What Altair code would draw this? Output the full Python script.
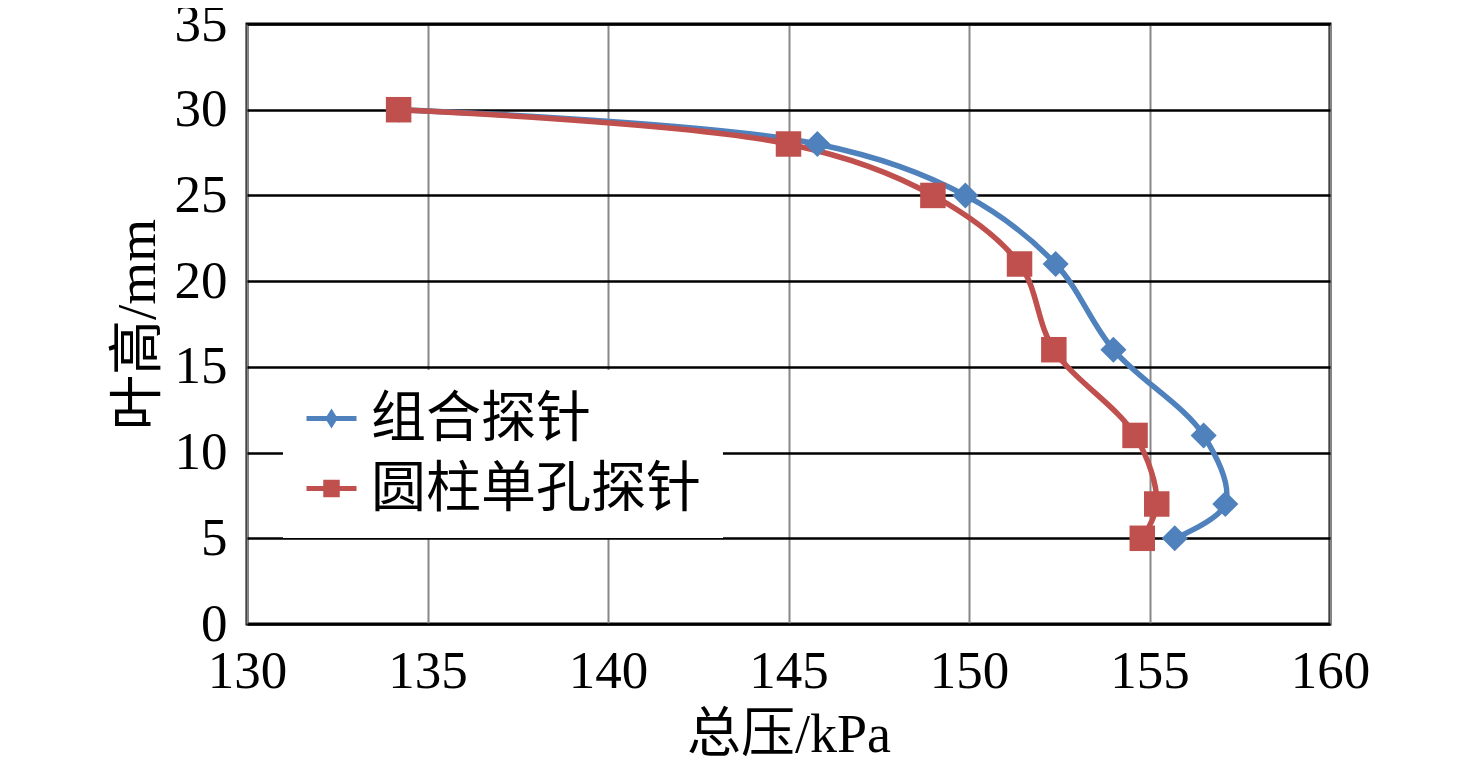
import altair as alt
import pandas as pd

series_names = ["组合探针", "圆柱单孔探针"]
heights = [30, 28, 25, 21, 16, 11, 7, 5]
blue_x = [134.2, 145.8, 149.9, 152.4, 154.0, 156.5, 157.1, 155.7]
red_x = [134.2, 145.0, 149.0, 151.4, 152.35, 154.6, 155.2, 154.8]
x_ticks = [130, 135, 140, 145, 150, 155, 160]
y_ticks = [0, 5, 10, 15, 20, 25, 30, 35]
colors = ["#4F81BD", "#C0504D"]

rows = []
for i, (h, v) in enumerate(zip(heights, blue_x)):
    rows.append({"series": series_names[0], "x": v, "y": h, "idx": i})
for i, (h, v) in enumerate(zip(heights, red_x)):
    rows.append({"series": series_names[1], "x": v, "y": h, "idx": i})
df = pd.DataFrame(rows)

FONT = "Liberation Serif, Times New Roman, Noto Sans CJK SC"

xenc = alt.X("x:Q", scale=alt.Scale(domain=[130, 160], nice=False, zero=False),
             axis=alt.Axis(values=x_ticks, title="总压/kPa", grid=True, gridColor="#888888",
                           gridWidth=2, ticks=False, domain=False, labelFont=FONT,
                           labelFontSize=53, labelColor="black", labelPadding=21,
                           titleFont=FONT, titleFontSize=54, titleFontWeight="normal",
                           titleColor="black", titlePadding=10, labelFlush=False))
yenc = alt.Y("y:Q", scale=alt.Scale(domain=[0, 35], nice=False, zero=False),
             axis=alt.Axis(values=y_ticks, title="叶高/mm", grid=True, gridColor="black",
                           gridWidth=2.5, ticks=False, domain=False, labelFont=FONT,
                           labelFontSize=53, labelColor="black", labelPadding=20,
                           titleFont=FONT, titleFontSize=55, titleFontWeight="normal",
                           titleColor="black", titlePadding=8, labelFlush=False))

diamond_path = "M-1,-0.1L1,-0.1L1,0.1L-1,0.1Z M0,-0.4L0.25,0L0,0.4L-0.25,0Z"
square_path = "M-1,-0.1L1,-0.1L1,0.1L-1,0.1Z M-0.33,-0.35L0.33,-0.35L0.33,0.35L-0.33,0.35Z"
shape_expr = "datum.value === '%s' ? '%s' : '%s'" % (series_names[0], diamond_path, square_path)
fill_expr = "datum.value === '%s' ? '%s' : '%s'" % (series_names[0], colors[0], colors[1])

leg = alt.Legend(
    title=None, orient="none", legendX=36, legendY=346, fillColor="white", padding=21,
    labelFontSize=55, labelFont=FONT, labelColor="black", symbolSize=2500,
    rowPadding=14, labelOffset=12, labelLimit=700,
    symbolType={"expr": shape_expr},
    symbolFillColor={"expr": fill_expr},
    symbolStrokeColor={"expr": fill_expr},
    symbolStrokeWidth=0,
)

base = alt.Chart(df)

lines = base.mark_line(strokeWidth=5.5, interpolate="catmull-rom").encode(
    x=xenc, y=yenc,
    color=alt.Color("series:N", scale=alt.Scale(domain=series_names, range=colors), legend=leg),
    order=alt.Order("idx:Q"),
)

blue_pts = base.transform_filter(alt.datum.series == series_names[0]).mark_point(
    shape="diamond", filled=True, size=680, opacity=1, color=colors[0]
).encode(x=xenc, y=yenc)

red_pts = base.transform_filter(alt.datum.series == series_names[1]).mark_point(
    shape="square", filled=True, size=650, opacity=1, color=colors[1]
).encode(x=xenc, y=yenc)

chart = alt.layer(lines, blue_pts, red_pts).properties(
    width=1083, height=600,
    autosize=alt.AutoSizeParams(type="none"),
    padding={"left": 239, "top": 16, "right": 130, "bottom": 140},
    background="white",
).configure_view(stroke="black", strokeWidth=3)

chart.save("out.html", embed_options={"renderer": "svg", "actions": False})
